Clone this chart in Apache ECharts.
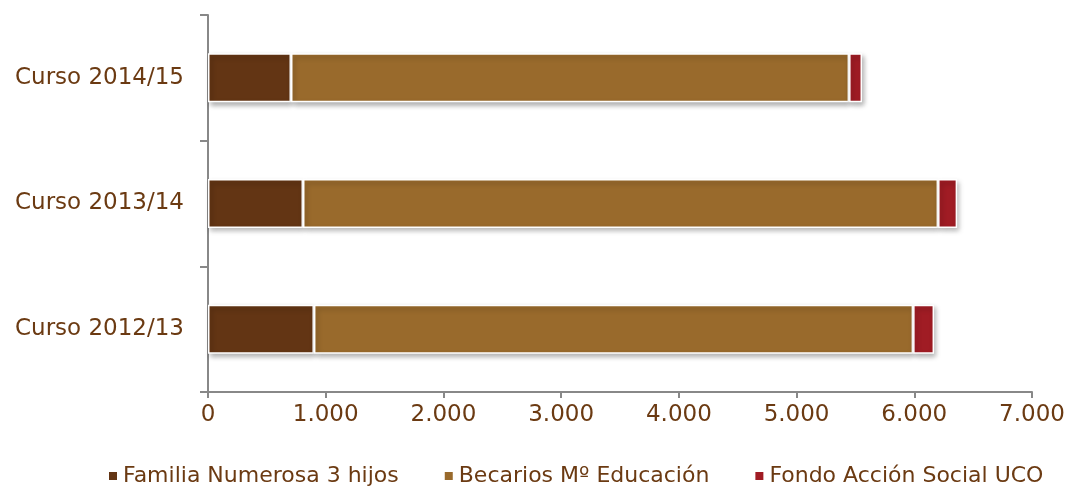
<!DOCTYPE html>
<html>
<head>
<meta charset="utf-8">
<script src="https://cdn.jsdelivr.net/npm/echarts@6/dist/echarts.min.js"></script>
<style>
  html, body { margin: 0; padding: 0; background: #fff; }
  #chart { width: 1069px; height: 488px; }
</style>
</head>
<body>
<div id="chart"></div>
<script>
// datos
const categories = ["Curso 2012/13", "Curso 2013/14", "Curso 2014/15"];
const seriesNames = ["Familia Numerosa 3 hijos", "Becarios Mº Educación", "Fondo Acción Social UCO"];
const familia = [900, 807, 705];
const becarios = [5090, 5395, 4741];
const fondo = [178, 162, 110];
const colors = ["#633514", "#996a2c", "#a01c24"];

const textColor = "#6b3a12";
const font = "DejaVu Sans";

function barStyle(color) {
  return {
    color: color,
    borderColor: "#fff",
    borderWidth: 1.5,
    shadowColor: "rgba(0,0,0,0.3)",
    shadowBlur: 5,
    shadowOffsetX: 2,
    shadowOffsetY: 3,
  };
}

const chart = echarts.init(document.getElementById("chart"));
const values = [familia, becarios, fondo];

const option = {
  animation: false,
  color: colors,
  grid: {
    left: 208,
    right: 37,
    top: 15,
    bottom: 96,
  },
  legend: {
    top: 460,
    left: 102,
    icon: "rect",
    itemWidth: 10,
    itemHeight: 10,
    itemGap: 44,
    textStyle: {
      color: textColor,
      fontSize: 22,
      fontFamily: font,
    },
    data: seriesNames,
  },
  xAxis: {
    type: "value",
    min: 0,
    max: 7000,
    interval: 1000,
    axisLine: { show: true, lineStyle: { color: "#888", width: 2 } },
    axisTick: { show: true, length: 6, lineStyle: { color: "#888", width: 2 } },
    splitLine: { show: false },
    axisLabel: {
      color: textColor,
      fontSize: 23,
      fontFamily: font,
      margin: 12,
      formatter: function (v) {
        return v === 0 ? "0" : v.toString().replace(/\B(?=(\d{3})+(?!\d))/g, ".");
      },
    },
  },
  yAxis: {
    type: "category",
    data: categories,
    axisLine: { show: true, lineStyle: { color: "#888", width: 2 } },
    axisTick: { show: true, length: 8, lineStyle: { color: "#888", width: 2 } },
    axisLabel: {
      color: textColor,
      fontSize: 23,
      fontFamily: font,
      margin: 24,
    },
  },
  series: seriesNames.map(function (name, i) {
    return {
      name: name,
      type: "bar",
      stack: "total",
      barWidth: "39%",
      itemStyle: barStyle(colors[i]),
      data: values[i],
    };
  }),
};

chart.setOption(option);
</script>
</body>
</html>
